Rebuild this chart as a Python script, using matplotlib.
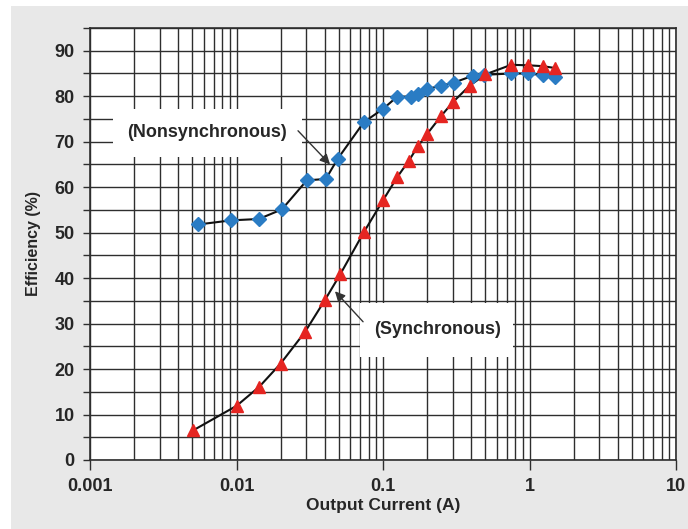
import matplotlib
matplotlib.use("Agg")
import matplotlib.pyplot as plt
from matplotlib.patches import Rectangle
from matplotlib.ticker import LogLocator, MultipleLocator, FixedLocator, NullFormatter

plt.rcParams['font.family'] = ['Liberation Sans', 'DejaVu Sans']
plt.rcParams['font.weight'] = 'bold'
plt.rcParams['axes.labelweight'] = 'bold'

# efficiency curves, output current in A
nonsync_current = [0.0055, 0.0092, 0.0142, 0.0204, 0.0302, 0.0407, 0.049, 0.074, 0.1, 0.125, 0.155,
                   0.174, 0.2, 0.25, 0.305, 0.41, 0.49, 0.75, 0.98, 1.24, 1.49]
nonsync_eff = [51.8, 52.7, 53.0, 55.1, 61.5, 61.8, 66.2, 74.3, 77.2, 79.9, 79.9,
               80.5, 81.6, 82.3, 83.0, 84.5, 84.7, 85.0, 85.0, 84.6, 84.3]

sync_current = [0.00505, 0.01, 0.0143, 0.02, 0.0294, 0.04, 0.051, 0.074, 0.1, 0.125, 0.15,
                0.174, 0.2, 0.25, 0.3, 0.39, 0.5, 0.75, 0.98, 1.24, 1.49]
sync_eff = [6.5, 11.9, 16.1, 21.2, 28.2, 35.1, 40.8, 50.1, 57.1, 62.2, 65.8,
            69.1, 71.7, 75.7, 78.7, 82.3, 84.8, 86.9, 86.8, 86.6, 86.2]

x_ticks = [0.001, 0.01, 0.1, 1, 10]
x_labels = ['0.001', '0.01', '0.1', '1', '10']
y_ticks = [0, 10, 20, 30, 40, 50, 60, 70, 80, 90]

text_col = '#262626'
grid_col = '#2e2e2e'

fig = plt.figure(figsize=(6.88, 5.29), dpi=100, facecolor='white')
# grey panel behind the chart, leaving a thin white strip top and left
fig.patches.append(Rectangle((11 / 688, 0), 1, 1 - 6 / 529, transform=fig.transFigure,
                             facecolor='#e8e8e8', edgecolor='none', zorder=-10))

ax = fig.add_axes([90 / 688, 69 / 529, 586 / 688, 432 / 529])
ax.set_facecolor('white')
ax.set_xscale('log')
ax.set_xlim(0.001, 10)
ax.set_ylim(0, 95)

ax.xaxis.set_major_locator(FixedLocator(x_ticks))
ax.set_xticklabels(x_labels)
ax.xaxis.set_minor_locator(LogLocator(base=10, subs=range(2, 10), numticks=20))
ax.xaxis.set_minor_formatter(NullFormatter())
ax.yaxis.set_major_locator(FixedLocator(y_ticks))
ax.yaxis.set_minor_locator(MultipleLocator(5))

ax.grid(which='both', color=grid_col, linewidth=1.0, zorder=0)
ax.set_axisbelow(True)

ax.tick_params(axis='x', which='major', direction='out', length=7, width=1.0, color=grid_col,
               pad=6, labelsize=13, labelcolor=text_col)
ax.tick_params(axis='x', which='minor', length=0)
ax.tick_params(axis='y', which='both', direction='out', length=5, width=1.0, color=grid_col,
               pad=6, labelsize=13, labelcolor=text_col)
for sp in ax.spines.values():
    sp.set_color(grid_col)
    sp.set_linewidth(1.2)

# curves
ax.plot(nonsync_current, nonsync_eff, color='#111111', linewidth=1.5, zorder=3)
ax.plot(sync_current, sync_eff, color='#111111', linewidth=1.5, zorder=3)
ax.plot(nonsync_current, nonsync_eff, linestyle='none', marker='D', markersize=7,
        color='#2a7cc4', markeredgecolor='#2a7cc4', zorder=4)
ax.plot(sync_current, sync_eff, linestyle='none', marker='^', markersize=8.5,
        color='#e52521', markeredgecolor='#e52521', zorder=4)

# white label boxes hiding the grid
ax.add_patch(Rectangle((0.00144, 66.6), 0.0280 - 0.00144, 10.6, facecolor='white',
                       edgecolor='none', zorder=1))
ax.add_patch(Rectangle((0.0697, 22.7), 0.771 - 0.0697, 11.9, facecolor='white',
                       edgecolor='none', zorder=1))
ax.text(0.0063, 72.1, '(Nonsynchronous)', ha='center', va='center', fontsize=13,
        color=text_col, zorder=2)
ax.text(0.237, 28.7, '(Synchronous)', ha='center', va='center', fontsize=13,
        color=text_col, zorder=2)

arrow = dict(arrowstyle='-|>,head_length=0.6,head_width=0.3', color='#333333', lw=1.0,
             shrinkA=0, shrinkB=0)
ax.annotate('', xy=(0.0435, 65.0), xytext=(0.0263, 72.4), arrowprops=arrow, zorder=5)
ax.annotate('', xy=(0.047, 37.1), xytext=(0.0731, 30.4), arrowprops=arrow, zorder=5)

ax.set_xlabel('Output Current (A)', fontsize=12.5, color=text_col, labelpad=2)
ax.set_ylabel('Efficiency (%)', fontsize=11.5, color=text_col, labelpad=10)

fig.savefig('out.png', dpi=100, facecolor=fig.get_facecolor())
